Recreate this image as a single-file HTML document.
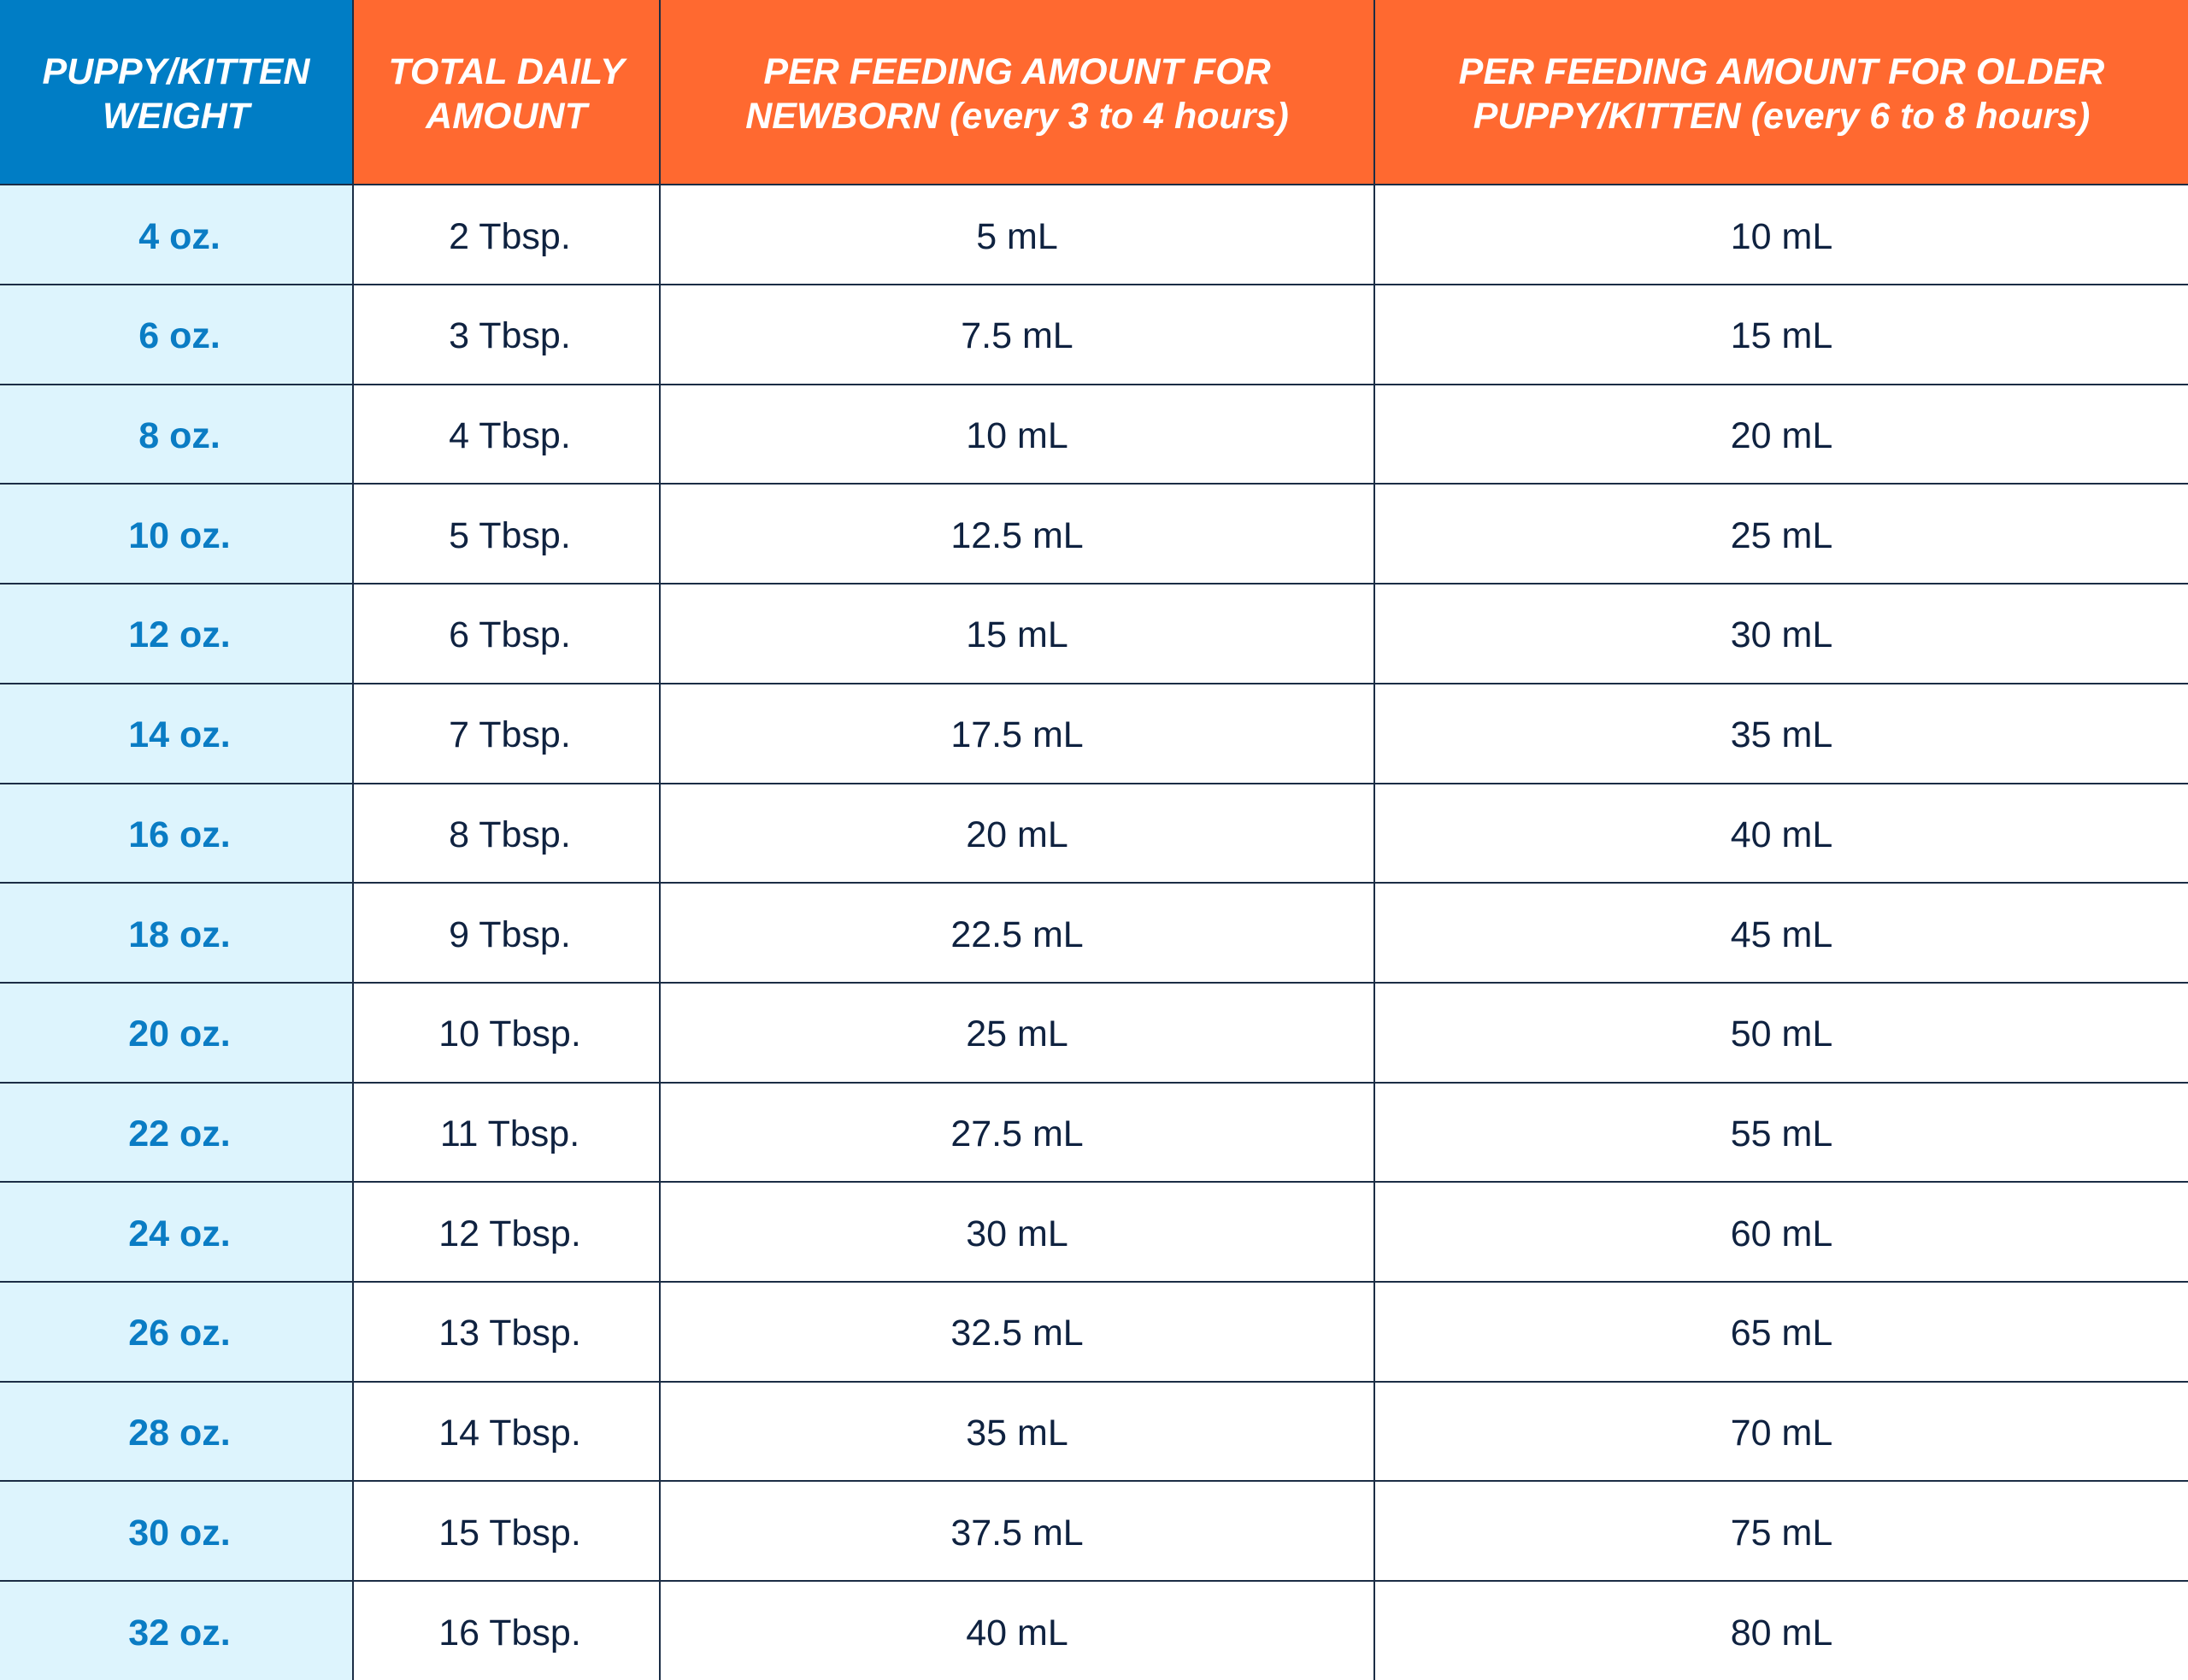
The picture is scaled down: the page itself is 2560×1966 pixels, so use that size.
<!DOCTYPE html>
<html><head><meta charset="utf-8"><style>
html,body{margin:0;padding:0;background:#fff;overflow:hidden}
table{border-collapse:collapse;width:2560px;height:1966px;table-layout:fixed;font-family:"Liberation Sans",Arial,sans-serif}
td,th{border:2px solid #1b2d45;text-align:center;vertical-align:middle;padding:0}
th{height:210px;padding-top:4px;color:#fff;font-style:italic;font-weight:bold;font-size:43px;line-height:52px;background:#ff6930}
th.b{background:#007dc5}
td{height:109px;padding-top:5px;font-size:43px;color:#0f2240}
td.w{background:#ddf4fd;color:#0a7cc4;font-weight:bold;padding-left:8px}
td.t{padding-left:8px}
tr:first-child th{border-top:none}
th:first-child,td:first-child{border-left:none}
th:last-child,td:last-child{border-right:none}
tr:last-child td{border-bottom:none}
</style></head><body>
<table>
<colgroup><col style="width:413px"><col style="width:359px"><col style="width:836px"><col style="width:952px"></colgroup>
<tr><th class="b">PUPPY/KITTEN<br>WEIGHT</th><th>TOTAL DAILY<br>AMOUNT</th><th>PER FEEDING AMOUNT FOR<br>NEWBORN (every 3 to 4 hours)</th><th>PER FEEDING AMOUNT FOR OLDER<br>PUPPY/KITTEN (every 6 to 8 hours)</th></tr>
<tr><td class="w">4 oz.</td><td class="t">2 Tbsp.</td><td>5 mL</td><td>10 mL</td></tr>
<tr><td class="w">6 oz.</td><td class="t">3 Tbsp.</td><td>7.5 mL</td><td>15 mL</td></tr>
<tr><td class="w">8 oz.</td><td class="t">4 Tbsp.</td><td>10 mL</td><td>20 mL</td></tr>
<tr><td class="w">10 oz.</td><td class="t">5 Tbsp.</td><td>12.5 mL</td><td>25 mL</td></tr>
<tr><td class="w">12 oz.</td><td class="t">6 Tbsp.</td><td>15 mL</td><td>30 mL</td></tr>
<tr><td class="w">14 oz.</td><td class="t">7 Tbsp.</td><td>17.5 mL</td><td>35 mL</td></tr>
<tr><td class="w">16 oz.</td><td class="t">8 Tbsp.</td><td>20 mL</td><td>40 mL</td></tr>
<tr><td class="w">18 oz.</td><td class="t">9 Tbsp.</td><td>22.5 mL</td><td>45 mL</td></tr>
<tr><td class="w">20 oz.</td><td class="t">10 Tbsp.</td><td>25 mL</td><td>50 mL</td></tr>
<tr><td class="w">22 oz.</td><td class="t">11 Tbsp.</td><td>27.5 mL</td><td>55 mL</td></tr>
<tr><td class="w">24 oz.</td><td class="t">12 Tbsp.</td><td>30 mL</td><td>60 mL</td></tr>
<tr><td class="w">26 oz.</td><td class="t">13 Tbsp.</td><td>32.5 mL</td><td>65 mL</td></tr>
<tr><td class="w">28 oz.</td><td class="t">14 Tbsp.</td><td>35 mL</td><td>70 mL</td></tr>
<tr><td class="w">30 oz.</td><td class="t">15 Tbsp.</td><td>37.5 mL</td><td>75 mL</td></tr>
<tr><td class="w">32 oz.</td><td class="t">16 Tbsp.</td><td>40 mL</td><td>80 mL</td></tr>
</table>
</body></html>
